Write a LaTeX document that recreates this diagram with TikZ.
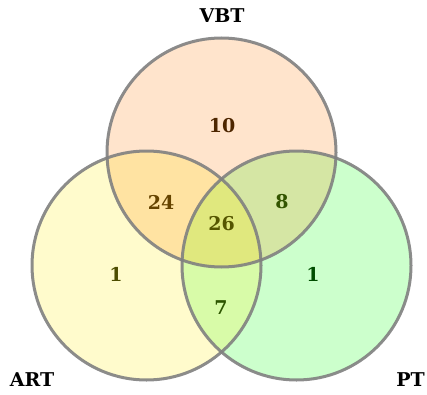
\documentclass[tikz,border=0pt]{standalone}
\usepackage{fontspec}
\setmainfont{DejaVu Serif}
\definecolor{cV}{HTML}{FFE4CC}
\definecolor{cA}{HTML}{FFFBCC}
\definecolor{cP}{HTML}{CCFFCC}
\definecolor{cVA}{HTML}{FFE3A2}
\definecolor{cVP}{HTML}{D5E6A4}
\definecolor{cAP}{HTML}{D8FBA8}
\definecolor{cVAP}{HTML}{E0E87E}
\definecolor{tV}{HTML}{4D2600}
\definecolor{tVA}{HTML}{664400}
\definecolor{tVAP}{HTML}{555500}
\definecolor{tVP}{HTML}{335500}
\definecolor{tA}{HTML}{4D4D00}
\definecolor{tP}{HTML}{004D00}
\definecolor{tAP}{HTML}{2D5500}
\tikzset{
  setlabel/.style={font=\fontsize{19}{22}\selectfont\bfseries, text=black, inner sep=0pt},
  numlabel/.style={font=\fontsize{19}{22}\selectfont\bfseries, inner sep=0pt},
  rim/.style={draw=gray, line width=3pt, draw opacity=0.9}
}
\begin{document}
\begin{tikzpicture}[x=1pt,y=1pt]
\useasboundingbox (0,0) rectangle (427,394);
\def\R{114.5}
\coordinate (cv) at (221.5,241.5);
\coordinate (ca) at (146.5,128.5);
\coordinate (cp) at (296.5,128.5);
% single fills
\fill[cV] (cv) circle (\R);
\fill[cA] (ca) circle (\R);
\fill[cP] (cp) circle (\R);
% pairwise
\begin{scope}\clip (cv) circle (\R); \fill[cVA] (ca) circle (\R); \fill[cVP] (cp) circle (\R); \end{scope}
\begin{scope}\clip (ca) circle (\R); \fill[cAP] (cp) circle (\R); \end{scope}
\begin{scope}\clip (cv) circle (\R); \clip (ca) circle (\R); \fill[cVAP] (cp) circle (\R); \end{scope}
% outlines
\draw[rim] (cv) circle (\R);
\draw[rim] (ca) circle (\R);
\draw[rim] (cp) circle (\R);
% set labels
\node[setlabel] (lv) at (222,378) {VBT};
\node[setlabel] (la) at (32,14) {ART};
\node[setlabel] (lp) at (410.5,14) {PT};
% counts
\node[numlabel, text=tV] (nv) at (222,268) {10};
\node[numlabel, text=tVA] (nva) at (161,192) {24};
\node[numlabel, text=tVAP] (nvap) at (221.5,170) {26};
\node[numlabel, text=tVP] (nvp) at (282,192) {8};
\node[numlabel, text=tA] (na) at (116,120) {1};
\node[numlabel, text=tP] (np) at (313,120) {1};
\node[numlabel, text=tAP] (nap) at (221,86.5) {7};
\end{tikzpicture}
\end{document}
